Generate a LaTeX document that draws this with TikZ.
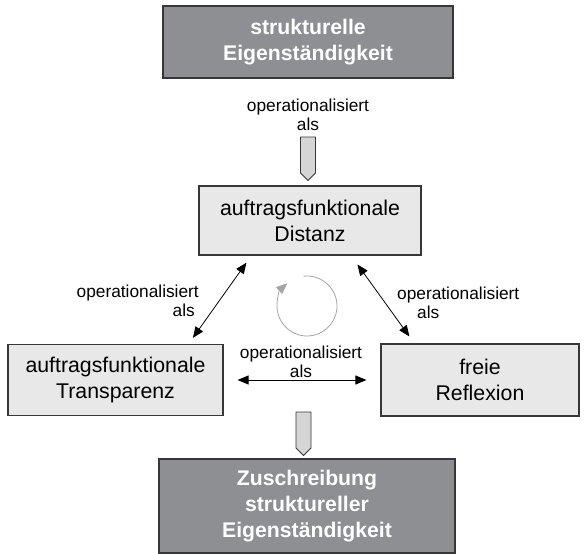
\documentclass[tikz,border=0pt]{standalone}
\usepackage{fontspec}
\setmainfont{Liberation Sans}
\usetikzlibrary{arrows.meta,shapes.symbols,positioning}

\definecolor{dunkelgrau}{RGB}{142,143,147}
\definecolor{hellgrau}{RGB}{232,232,232}
\definecolor{rahmen}{RGB}{55,55,55}
\definecolor{kreisgrau}{RGB}{165,165,165}

\begin{document}
\begin{tikzpicture}[x=1pt,y=-1pt,
	hellbox/.style={draw=rahmen, line width=1.1pt, fill=hellgrau, align=center, inner sep=0pt, font=\fontsize{21.3}{26}\selectfont},
	dunkelbox/.style={hellbox, fill=dunkelgrau, text=white, font=\fontsize{21.2}{26}\selectfont\bfseries},
	beschriftung/.style={inner sep=0pt, font=\fontsize{17.3}{19.5}\selectfont},
	pfeil/.style={shape=signal, signal to=south, signal from=nowhere, draw=rahmen, line width=0.9pt, fill=hellgrau!92!black, minimum width=15pt, minimum height=36pt, inner sep=0pt},
	doppelpfeil/.style={{Triangle[length=11pt,width=9pt]}-{Triangle[length=11pt,width=9pt]}, line width=0.8pt},
	kreispfeil/.style={-{Triangle[length=11pt,width=9pt]}, draw=kreisgrau, line width=0.8pt}]

	\useasboundingbox (0,0) rectangle (587,554);

	% Kaesten
	\node[dunkelbox, minimum width=290pt, minimum height=72pt] (eigen) at (308,42) {strukturelle\\Eigenst\"andigkeit};
	\node[hellbox, minimum width=222pt, minimum height=69pt] (distanz) at (310,220.5) {auftragsfunktionale\\Distanz};
	\node[hellbox, minimum width=215pt, minimum height=71pt] (transparenz) at (115.5,380) {auftragsfunktionale\\Transparenz};
	\node[hellbox, minimum width=198pt, minimum height=72pt] (reflexion) at (480,380) {freie\\Reflexion};
	\node[dunkelbox, minimum width=296pt, minimum height=94pt] (zuschreibung) at (307,506) {Zuschreibung\\struktureller\\Eigenst\"andigkeit};

	% Beschriftungen
	\node[beschriftung, align=center] (b1) at (308,115) {operationalisiert\\als};
	\node[beschriftung, align=right, anchor=east] (b2) at (199,301) {operationalisiert\\als\hspace*{4pt}};
	\node[beschriftung, align=left, anchor=west] (b3) at (397,303) {operationalisiert\\\hspace*{20pt}als};
	\node[beschriftung, align=center] (b4) at (301,362) {operationalisiert\\als};

	% Blockpfeile
	\node[pfeil] (p1) at (308,155) {};
	\node[pfeil] (p2) at (303.5,430) {};

	% Verbindungen
	\draw[doppelpfeil, shorten <=8.7pt, shorten >=7.5pt] ([xshift=53pt]distanz.south west) -- ([xshift=-35pt]transparenz.north east);
	\draw[doppelpfeil, shorten <=11pt, shorten >=8.6pt] ([xshift=-70.5pt]distanz.south east) -- ([xshift=34pt]reflexion.north west);
	\draw[doppelpfeil, shorten <=14pt, shorten >=14pt] (transparenz.east) -- (reflexion.west);

	% Kreislauf
	\coordinate (kreismitte) at (307,306);
	\draw[kreispfeil] ([shift={(97:30pt)}]kreismitte) arc[start angle=97, end angle=-229, radius=30pt];
\end{tikzpicture}
\end{document}
